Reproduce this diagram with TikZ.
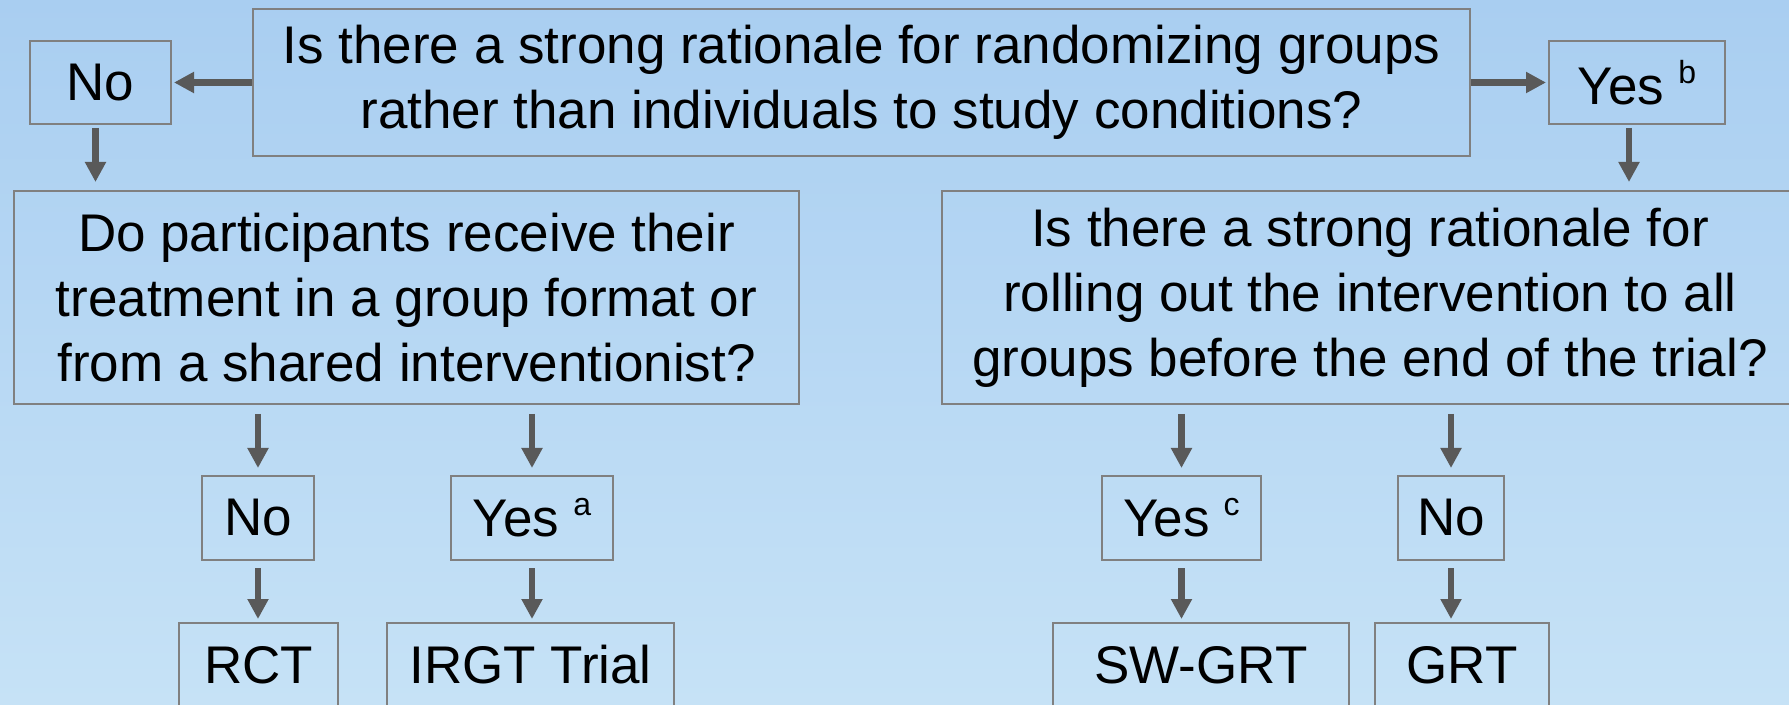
\documentclass[tikz,border=0pt]{standalone}
\usepackage{fontspec}
\setmainfont{Liberation Sans}
\usetikzlibrary{positioning,arrows.meta}
\definecolor{bgtop}{RGB}{169,206,241}
\definecolor{bgbot}{RGB}{198,226,246}
\definecolor{boxline}{RGB}{128,128,128}
\definecolor{arrgray}{RGB}{89,89,89}
\newcommand{\fnmark}[1]{\hspace{7pt}\raisebox{10.5pt}{\fontsize{16}{16}\selectfont #1}}
\tikzset{
  qbox/.style={draw=boxline, line width=1pt, align=center, inner sep=0pt, font=\fontsize{26.5}{32.5}\selectfont},
  abox/.style={qbox, minimum height=42pt},
  fl/.style={-{Triangle[length=10pt, width=10pt]}, arrgray, line width=3.3pt},
  flowchart/.style={x=0.5pt, y=-0.5pt}
}

\begin{document}
\begin{tikzpicture}[flowchart]
        \shade[top color=bgtop, bottom color=bgbot] (0,0) rectangle (1789,705);
        \useasboundingbox (0,0) rectangle (1789,705);
        \clip (0,0) rectangle (1789,705);
        % first question
        \node[qbox, minimum width=608.5pt, minimum height=73.5pt] (q1) at (861.5,82.5)
          {Is there a strong rationale for randomizing groups\\rather than individuals to study conditions?};
        \node[qbox, minimum width=70.5pt, minimum height=41.5pt] (no1) at (100.5,82.5) {No};
        \node[qbox, minimum width=88pt, minimum height=41.5pt] (yes1) at (1637,82.5) {Yes\fnmark{b}};
        \draw[fl, shorten >=1pt] (q1.west) -- (no1.east);
        \draw[fl, shorten >=1pt] (q1.east) -- (yes1.west);
        % second level
        \node[qbox, minimum width=392.5pt, minimum height=106.5pt] (q2) at (406.5,297.5)
          {Do participants receive their\\treatment in a group format or\\from a shared interventionist?};
        \node[qbox, minimum width=428pt, minimum height=106.5pt] (q3) at (1370,297.5)
          {Is there a strong rationale for\\rolling out the intervention to all\\groups before the end of the trial?};
        \draw[fl, shorten <=1.5pt, shorten >=4pt] ([xshift=-2.5pt]no1.south) -- ([xshift=-2.5pt]no1.south |- q2.north);
        \draw[fl, shorten <=1.5pt, shorten >=4pt] ([xshift=-4pt]yes1.south) -- ([xshift=-4pt]yes1.south |- q3.north);
        % answers
        \node[abox, minimum width=56pt] (no2) at (258,518) {No};
        \node[abox, minimum width=81pt] (yes2) at (532,518) {Yes\fnmark{a}};
        \node[abox, minimum width=79.5pt] (yes3) at (1181.5,518) {Yes\fnmark{c}};
        \node[abox, minimum width=53pt] (no3) at (1451,518) {No};
        \foreach \a/\b in {no2/q2, yes2/q2, yes3/q3, no3/q3}
          \draw[fl, shorten <=4.5pt, shorten >=3.5pt] (\a.north |- \b.south) -- (\a.north);
        % designs
        \node[abox, minimum width=79.5pt] (rct) at (258.5,665) {RCT};
        \node[abox, minimum width=143.5pt] (irgt) at (530.5,665) {IRGT Trial};
        \node[abox, minimum width=148pt] (swgrt) at (1201,665) {SW-GRT};
        \node[abox, minimum width=87pt] (grt) at (1462,665) {GRT};
        \foreach \a/\b in {no2/rct, yes2/irgt, yes3/swgrt, no3/grt}
          \draw[fl, shorten <=3.5pt, shorten >=1.5pt] (\a.south) -- (\a.south |- \b.north);
      \end{tikzpicture}
\end{document}
